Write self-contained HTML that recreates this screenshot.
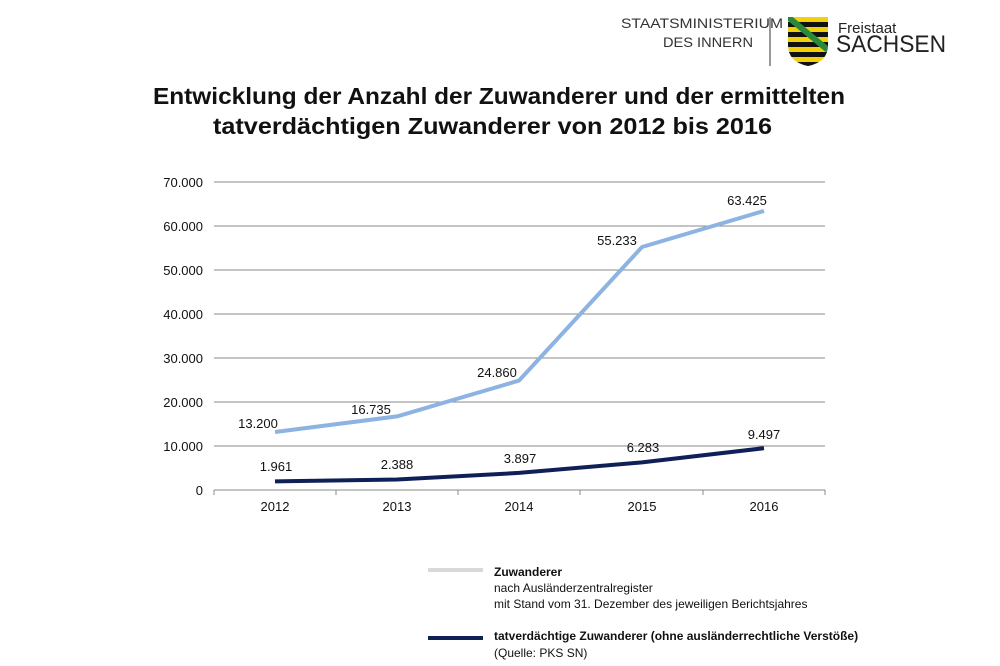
<!DOCTYPE html>
<html><head><meta charset="utf-8"><style>body{margin:0;background:#fff}svg{display:block}</style></head><body>
<svg width="1000" height="666" viewBox="0 0 1000 666" font-family="Liberation Sans, sans-serif">
<rect width="1000" height="666" fill="#fff"/>
<text x="783" y="28" font-size="14" text-anchor="end" fill="#333" textLength="162" lengthAdjust="spacingAndGlyphs">STAATSMINISTERIUM</text>
<text x="753" y="47" font-size="14" text-anchor="end" fill="#333" textLength="90" lengthAdjust="spacingAndGlyphs">DES INNERN</text>
<line x1="770" y1="17" x2="770" y2="66" stroke="#333" stroke-width="1"/>
<clipPath id="sh"><path d="M788 17 H828 V45 Q828 62 808 66 Q788 62 788 45 Z"/></clipPath>
<g clip-path="url(#sh)">
<rect x="788" y="17" width="40" height="50" fill="#f3d10a"/>
<rect x="788" y="22" width="40" height="5" fill="#111"/>
<rect x="788" y="32" width="40" height="5" fill="#111"/>
<rect x="788" y="42" width="40" height="5" fill="#111"/>
<rect x="788" y="52" width="40" height="5" fill="#111"/>
<rect x="788" y="62" width="40" height="5" fill="#111"/>
<line x1="788" y1="17" x2="828" y2="50" stroke="#2a8a3a" stroke-width="6"/>
</g>
<text x="838" y="33" font-size="15" fill="#222">Freistaat</text>
<text x="836" y="52" font-size="24" fill="#222" textLength="110" lengthAdjust="spacingAndGlyphs">SACHSEN</text>
<text x="153" y="104" font-size="23" font-weight="bold" fill="#111" textLength="692" lengthAdjust="spacingAndGlyphs">Entwicklung der Anzahl der Zuwanderer und der ermittelten</text>
<text x="213" y="134" font-size="23" font-weight="bold" fill="#111" textLength="559" lengthAdjust="spacingAndGlyphs">tatverdächtigen Zuwanderer von 2012 bis 2016</text>
<g stroke="#888" stroke-width="1">
<line x1="214" y1="182" x2="825" y2="182"/><line x1="214" y1="226" x2="825" y2="226"/>
<line x1="214" y1="270" x2="825" y2="270"/><line x1="214" y1="314" x2="825" y2="314"/>
<line x1="214" y1="358" x2="825" y2="358"/><line x1="214" y1="402" x2="825" y2="402"/>
<line x1="214" y1="446" x2="825" y2="446"/><line x1="214" y1="490" x2="825" y2="490"/>
<line x1="214" y1="490" x2="214" y2="495"/><line x1="336" y1="490" x2="336" y2="495"/>
<line x1="458" y1="490" x2="458" y2="495"/><line x1="580" y1="490" x2="580" y2="495"/>
<line x1="703" y1="490" x2="703" y2="495"/><line x1="825" y1="490" x2="825" y2="495"/>
</g>
<g font-size="13" fill="#111" text-anchor="end">
<text x="203" y="187">70.000</text><text x="203" y="231">60.000</text><text x="203" y="275">50.000</text>
<text x="203" y="319">40.000</text><text x="203" y="363">30.000</text><text x="203" y="407">20.000</text>
<text x="203" y="451">10.000</text><text x="203" y="495">0</text>
</g>
<g font-size="13" fill="#111" text-anchor="middle">
<text x="275" y="511">2012</text><text x="397" y="511">2013</text><text x="519" y="511">2014</text><text x="642" y="511">2015</text><text x="764" y="511">2016</text>
</g>
<polyline points="275,432 397,416.4 519,380.6 642,247 764,210.9" fill="none" stroke="#8db3e2" stroke-width="4" stroke-linejoin="round"/>
<polyline points="275,481.4 397,479.5 519,472.9 642,462.4 764,448.2" fill="none" stroke="#0f2057" stroke-width="4" stroke-linejoin="round"/>
<g font-size="13" fill="#111" text-anchor="middle">
<text x="258" y="428">13.200</text><text x="371" y="414">16.735</text><text x="497" y="377">24.860</text>
<text x="617" y="245">55.233</text><text x="747" y="205">63.425</text>
<text x="276" y="471">1.961</text><text x="397" y="469">2.388</text><text x="520" y="463">3.897</text>
<text x="643" y="452">6.283</text><text x="764" y="439">9.497</text>
</g>
<line x1="428" y1="570" x2="483" y2="570" stroke="#d9d9d9" stroke-width="4"/>
<text x="494" y="576" font-size="12" font-weight="bold" fill="#111">Zuwanderer</text>
<text x="494" y="592" font-size="12" fill="#111">nach Ausländerzentralregister</text>
<text x="494" y="608" font-size="12" fill="#111">mit Stand vom 31. Dezember des jeweiligen Berichtsjahres</text>
<line x1="428" y1="638" x2="483" y2="638" stroke="#0f2057" stroke-width="4"/>
<text x="494" y="640" font-size="12" font-weight="bold" fill="#111">tatverdächtige Zuwanderer (ohne ausländerrechtliche Verstöße)</text>
<text x="494" y="657" font-size="12" fill="#111">(Quelle: PKS SN)</text>
</svg>
</body></html>
